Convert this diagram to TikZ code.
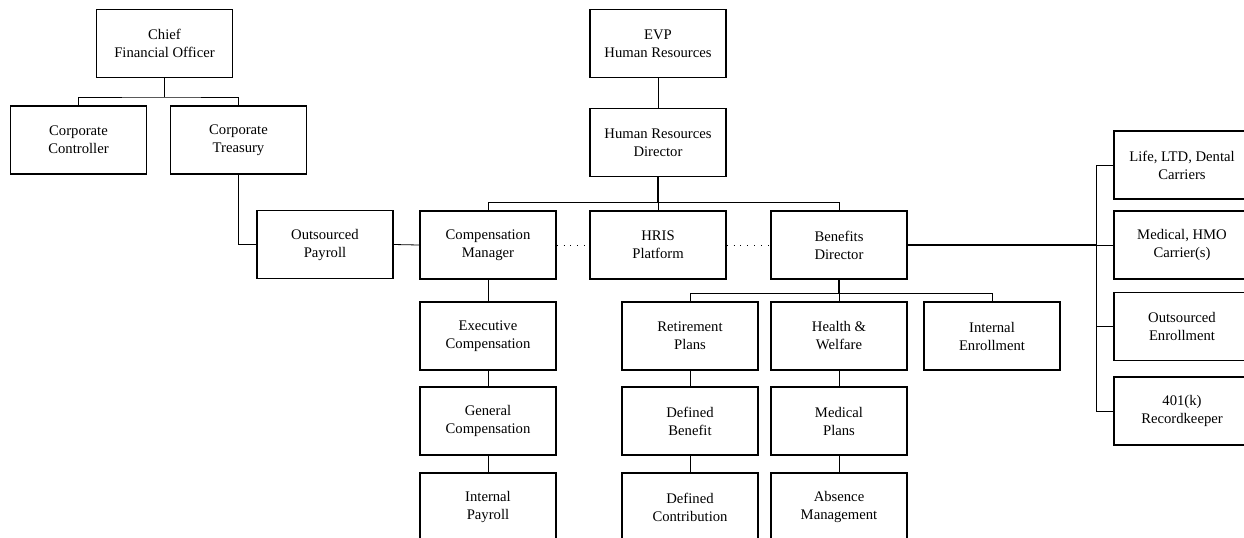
\documentclass[tikz,border=0pt]{standalone}
\usepackage{fontspec}
\setmainfont{Liberation Serif}
\usetikzlibrary{positioning}

\tikzset{
    box/.style={draw, line width=0.9pt, minimum width=102pt, minimum height=51pt,
        align=center, inner sep=2pt, font=\fontsize{11}{13.5}\selectfont},
    link/.style={line width=0.6pt},
    trunk/.style={line width=1.3pt},
    dotlink/.style={line width=0.6pt, dash pattern=on 0.6pt off 4.6pt}
}

\begin{document}
\begin{tikzpicture}[x=0.75pt, y=-0.75pt]
        \clip (0,0) rectangle (1244,537);

        % Finance side
        \node[box] (cfo) at (164.5,43.5) {Chief\\Financial Officer};
        \node[box] (ctrl) at (78.5,140) {Corporate\\Controller};
        \node[box] (treas) at (238.5,140) {Corporate\\Treasury};
        \node[box] (opay) at (325,244.5) {Outsourced\\Payroll};
        \coordinate (cfobus) at (164.5,97);
        \draw[trunk] (cfo) -- (cfobus);
        \draw[link] (ctrl.north) |- (cfobus) -| (treas.north);
        \draw[link] (treas.south) |- (opay.west);

        % HR side
        \node[box] (evp) at (658,43.5) {EVP\\Human Resources};
        \node[box] (hrdir) at (658,142.5) {Human Resources\\Director};
        \node[box] (comp) at (488,245) {Compensation\\Manager};
        \node[box] (hris) at (658,245) {HRIS\\Platform};
        \node[box] (ben) at (839,245) {Benefits\\Director};
        \coordinate (hrbus) at (658,202);
        \draw[link] (evp) -- (hrdir);
        \draw[trunk] (hrdir) -- (hrbus);
        \draw[link] (comp.north) |- (hrbus) -| (ben.north);
        \draw[link] (hrbus) -- (hris.north);
        \draw[link] (opay.east) -- (comp.west);
        \draw[dotlink] (comp.east) -- (hris.west);
        \draw[dotlink] (hris.east) -- (ben.west);

        % Compensation column
        \node[box] (exec) at (488,336) {Executive\\Compensation};
        \node[box] (gen) at (488,421) {General\\Compensation};
        \node[box] (ipay) at (488,507) {Internal\\Payroll};
        \draw[link] (comp) -- (exec) -- (gen) -- (ipay);

        % Benefits columns
        \node[box] (ret) at (690,336) {Retirement\\Plans};
        \node[box] (db) at (690,421) {Defined\\Benefit};
        \node[box] (dc) at (690,507) {Defined\\Contribution};
        \node[box] (hw) at (839,336) {Health \&\\Welfare};
        \node[box] (mp) at (839,421) {Medical\\Plans};
        \node[box] (absm) at (839,507) {Absence\\Management};
        \node[box] (ienr) at (992,336) {Internal\\Enrollment};
        \coordinate (benbus) at (839,293);
        \draw[trunk] (ben) -- (benbus);
        \draw[link] (ret.north) |- (benbus) -| (ienr.north);
        \draw[link] (benbus) -- (hw.north);
        \draw[link] (ret) -- (db) -- (dc);
        \draw[link] (hw) -- (mp) -- (absm);

        % Vendors
        \node[box] (life) at (1182,165) {Life, LTD, Dental\\Carriers};
        \node[box] (med) at (1182,245) {Medical, HMO\\Carrier(s)};
        \node[box] (oenr) at (1182,326.5) {Outsourced\\Enrollment};
        \node[box] (rk) at (1182,411) {401(k)\\Recordkeeper};
        \coordinate (vbus) at (1096,245);
        \draw[trunk] (ben.east) -- (vbus);
        \draw[link] (life.west) -| (vbus) |- (rk.west);
        \draw[link] (vbus) -- (med.west);
        \draw[link] (oenr.west) -- (oenr.west -| vbus);
    \end{tikzpicture}
\end{document}
